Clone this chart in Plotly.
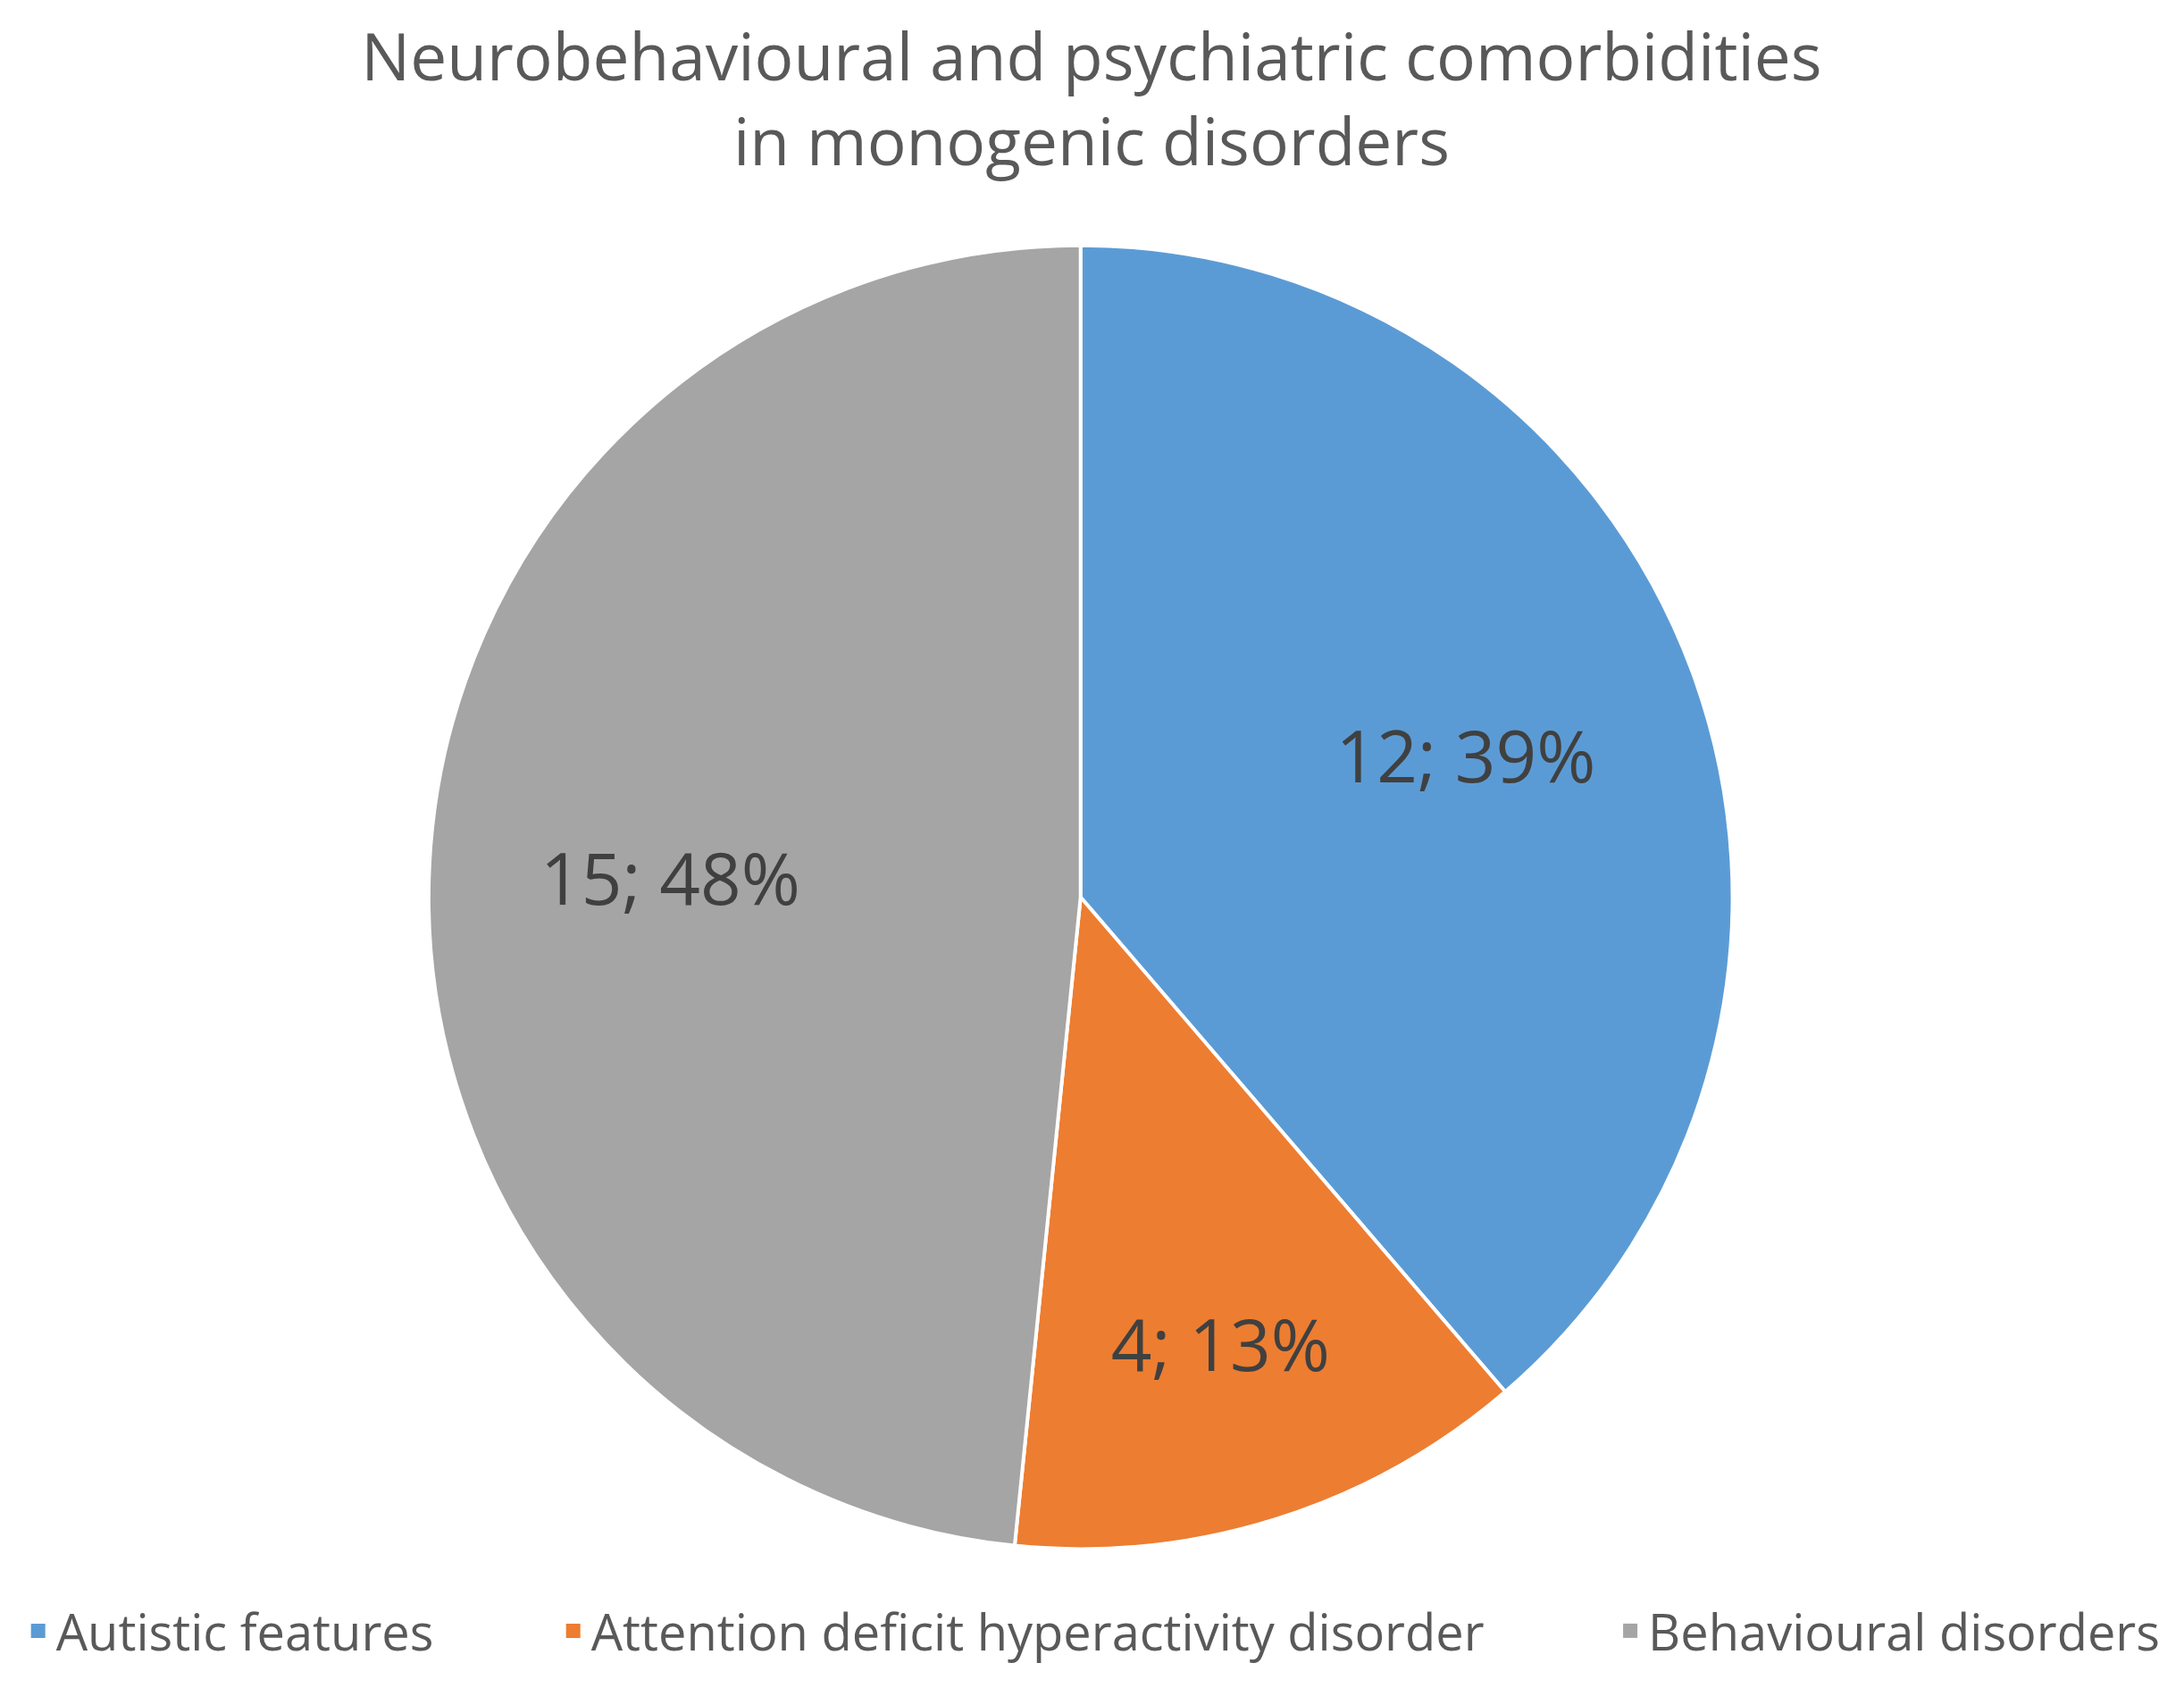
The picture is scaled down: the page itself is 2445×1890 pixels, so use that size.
import plotly.graph_objects as go

categories = ["Autistic features", "Attention deficit hyperactivity disorder", "Behavioural disorders"]
counts = [12, 4, 15]
colors = ["#5B9BD5", "#ED7D31", "#A5A5A5"]

title_text = "Neurobehavioural and psychiatric comorbidities<br>in monogenic disorders"

W, H = 2445, 1890
font_family = "Open Sans, Lato, DejaVu Sans, sans-serif"
pie_domain = dict(x=[0.193, 0.790], y=[0.0865, 0.859])

fig = go.Figure()

# filled slices
fig.add_trace(
    go.Pie(
        labels=categories,
        values=counts,
        sort=False,
        direction="clockwise",
        rotation=0,
        marker=dict(colors=colors, line=dict(color="white", width=4)),
        textinfo="none",
        domain=pie_domain,
        showlegend=False,
        hoverinfo="label+value+percent",
    )
)

# transparent ring on top, only to push the data labels outward like Excel does
fig.add_trace(
    go.Pie(
        labels=categories,
        values=counts,
        sort=False,
        direction="clockwise",
        rotation=0,
        hole=0.26,
        marker=dict(colors=["rgba(0,0,0,0)"] * len(counts), line=dict(width=0)),
        texttemplate="%{value}; %{percent:.0%}",
        textposition="inside",
        insidetextorientation="horizontal",
        textfont=dict(size=80, color="#404040", family=font_family),
        domain=pie_domain,
        showlegend=False,
        hoverinfo="skip",
    )
)

# legend entries, one legend each so they can be spread like the original
legend_x = [0.006, 0.251, 0.735]
for i, (name, col) in enumerate(zip(categories, colors)):
    key = "legend" if i == 0 else f"legend{i + 1}"
    fig.add_trace(
        go.Scatter(
            x=[None], y=[None], mode="markers", name=name,
            marker=dict(symbol="square", size=16, color=col),
            legend=key, showlegend=True, hoverinfo="skip",
        )
    )
    fig.layout[key] = dict(
        orientation="h",
        x=legend_x[i],
        xanchor="left",
        y=1 - 1818 / H,
        yanchor="middle",
        font=dict(size=56, color="#595959", family=font_family),
        itemsizing="trace",
        bgcolor="rgba(0,0,0,0)",
    )

fig.update_layout(
    width=W,
    height=H,
    paper_bgcolor="white",
    plot_bgcolor="white",
    margin=dict(l=0, r=0, t=0, b=0),
    font=dict(family=font_family, color="#595959"),
    title=dict(
        text=title_text,
        x=0.4965,
        xanchor="center",
        y=1 - 82 / H,
        yanchor="middle",
        font=dict(size=73, color="#595959", family=font_family),
    ),
    xaxis=dict(visible=False),
    yaxis=dict(visible=False),
)

fig.write_html("out.html")
